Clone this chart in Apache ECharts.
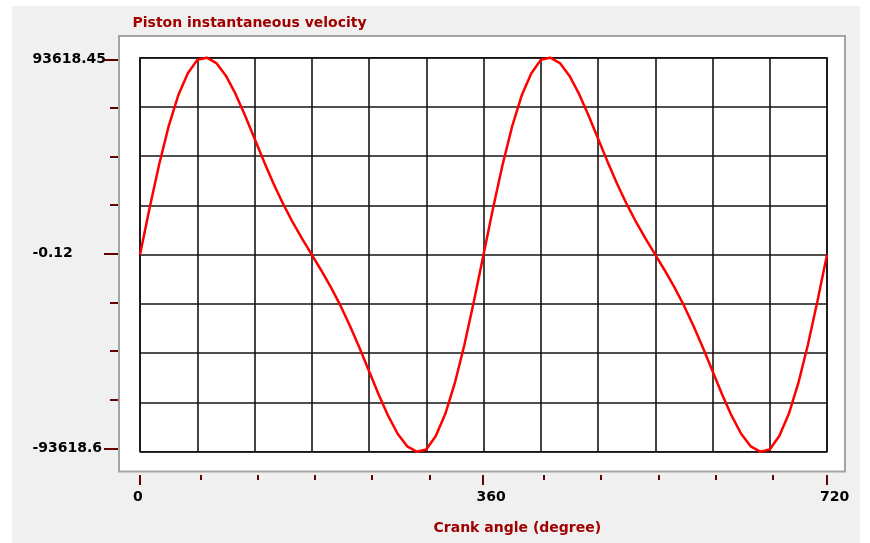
<!DOCTYPE html>
<html><head><meta charset="utf-8">
<script src="https://cdn.jsdelivr.net/npm/echarts@6/dist/echarts.min.js"></script>
<style>html,body{margin:0;padding:0;background:#fff}#c{width:870px;height:543px}</style>
</head><body><div id="c"></div>
<script>
const chartTitle = 'Piston instantaneous velocity';
const xAxisName = 'Crank angle (degree)';
const crankAngle = [0,10,20,30,40,50,60,70,80,90,100,110,120,130,140,150,160,170,180,
  190,200,210,220,230,240,250,260,270,280,290,300,310,320,330,340,350,360,
  370,380,390,400,410,420,430,440,450,460,470,480,490,500,510,520,530,540,
  550,560,570,580,590,600,610,620,630,640,650,660,670,680,690,700,710,720];
const velocity = [0,22049,42770,60959,75633,86119,92600,93618.45,91060,85077,76510,66275,55260,44227,33741,24119,15426,7499,0,
  -7499,-15426,-24119,-33741,-44227,-55260,-66275,-76510,-85077,-91060,-93618.6,-92600,-86119,-75633,-60959,-42770,-22049,0,
  22049,42770,60959,75633,86119,92600,93618.45,91060,85077,76510,66275,55260,44227,33741,24119,15426,7499,0,
  -7499,-15426,-24119,-33741,-44227,-55260,-66275,-76510,-85077,-91060,-93618.6,-92600,-86119,-75633,-60959,-42770,-22049,0];
const yTickLabels = ['-93618.6','-0.12','93618.45'];
const xTickLabels = ['0','360','720'];
const yMin = -93618.6, yMax = 93618.45;
const xMin = 0, xMax = 720;

const FONT = '"DejaVu Sans", Verdana, sans-serif';
const TICK = '#640000';
const TEXTRED = '#a00000';
const GRIDC = '#151515';
const chart = echarts.init(document.getElementById('c'), null, {renderer:'canvas'});
const hidden = {axisLine:{show:false},axisTick:{show:false},axisLabel:{show:false},splitLine:{show:false}};
const hv = (g) => Object.assign({type:'value', gridIndex:g, min:0, max:1}, hidden);
const minorTickAxis = (g, mn, mx) => Object.assign({type:'value', gridIndex:g, min:mn, max:mx, interval:60, position:'bottom'}, hidden,
      {axisTick:{show:true, length:5, lineStyle:{color:TICK, width:2}}});

chart.setOption({
  animation:false,
  backgroundColor:'#ffffff',
  graphic:[
    {type:'rect', z:-10, shape:{x:12,y:6,width:848,height:537}, style:{fill:'#f0f0f0'}},
    {type:'rect', z:-9, shape:{x:119,y:36,width:726,height:435.5}, style:{fill:'#ffffff',stroke:'#a4a4a4',lineWidth:2}},
    {type:'text', z:10, style:{text:chartTitle, x:132.5, y:23.5, font:'bold 14px '+FONT, fill:TEXTRED, verticalAlign:'middle', textVerticalAlign:'middle'}},
    {type:'text', z:10, style:{text:xAxisName, x:433.5, y:528.5, font:'bold 14px '+FONT, fill:TEXTRED, verticalAlign:'middle', textVerticalAlign:'middle'}}
  ],
  grid:[
    {left:140, top:57.7, right:43, bottom:91.3, show:true, borderColor:GRIDC, borderWidth:1.6, backgroundColor:'transparent'},
    {left:118, top:59.3, right:43, bottom:94.7},
    {left:139.5, top:57.7, right:43.3, bottom:68},
    {left:200.25, top:57.7, right:440.75, bottom:68},
    {left:133, top:57.7, right:49.9, bottom:68},
    {left:543.75, top:57.7, right:97.25, bottom:68}
  ],
  xAxis:[
    Object.assign({type:'value', gridIndex:0, min:xMin, max:xMax, interval:60}, hidden,
      {splitLine:{show:true, lineStyle:{color:GRIDC, width:1.6}}}),
    Object.assign({type:'value', gridIndex:2, min:xMin, max:xMax, interval:360, position:'bottom'}, hidden,
      {axisTick:{show:true, length:10, lineStyle:{color:TICK, width:2}}}),
    minorTickAxis(3, 60, 300),
    Object.assign({type:'value', gridIndex:4, min:xMin, max:xMax, interval:360, position:'bottom'}, hidden,
      {axisLabel:{show:true, align:'left', margin:15, showMinLabel:true, showMaxLabel:true,
        fontFamily:FONT, fontSize:14, fontWeight:'bold', color:'#000',
        formatter:(v,i)=>xTickLabels[i]}}),
    hv(1),
    minorTickAxis(5, 420, 660)
  ],
  yAxis:[
    Object.assign({type:'value', gridIndex:0, min:yMin, max:yMax}, hidden),
    Object.assign({type:'value', gridIndex:0, min:0, max:8, interval:1}, hidden,
      {splitLine:{show:true, lineStyle:{color:GRIDC, width:1.6}}}),
    Object.assign({type:'value', gridIndex:1, min:0, max:8, interval:4, position:'left'}, hidden,
      {axisTick:{show:true, length:14, lineStyle:{color:TICK, width:2}},
       axisLabel:{show:true, align:'left', margin:85.5, showMinLabel:true, showMaxLabel:true,
        fontFamily:FONT, fontSize:14, fontWeight:'bold', color:'#000',
        formatter:(v,i)=>yTickLabels[i]}}),
    Object.assign({type:'value', gridIndex:1, min:0, max:8, interval:1, position:'left'}, hidden,
      {axisTick:{show:true, length:8, lineStyle:{color:TICK, width:2}}}),
    hv(2), hv(3), hv(4), hv(5)
  ],
  series:[{
    type:'line', xAxisIndex:0, yAxisIndex:0, clip:false, showSymbol:false, symbol:'none', smooth:false,
    lineStyle:{color:'#ff0000', width:2.5}, z:5,
    data: crankAngle.map((a,i)=>[a, velocity[i]])
  }]
});
</script></body></html>
